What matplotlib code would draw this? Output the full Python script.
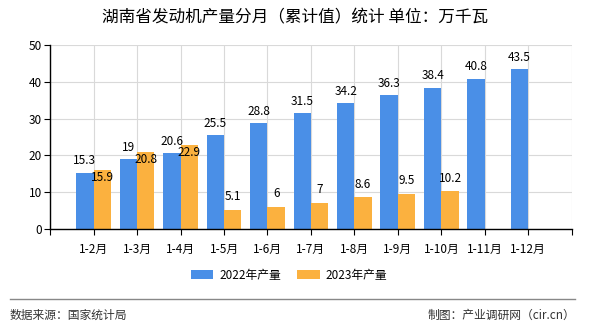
import numpy as np
import matplotlib.pyplot as plt

plt.rcParams['font.family'] = ['Noto Sans CJK SC', 'DejaVu Sans']

months = ['1-2月', '1-3月', '1-4月', '1-5月', '1-6月', '1-7月', '1-8月',
          '1-9月', '1-10月', '1-11月', '1-12月']
val_2022 = [15.3, 19, 20.6, 25.5, 28.8, 31.5, 34.2, 36.3, 38.4, 40.8, 43.5]
val_2023 = [15.9, 20.8, 22.9, 5.1, 6, 7, 8.6, 9.5, 10.2, None, None]

blue = '#4a8fe7'
orange = '#fbb13f'

fig = plt.figure(figsize=(5.9, 3.3), dpi=100)
ax = fig.add_axes([0.085, 0.306, 0.884, 0.558])

x = np.arange(len(months))
w = 0.4
v23 = [np.nan if v is None else v for v in val_2023]
b1 = ax.bar(x - w / 2, val_2022, w, color=blue, label='2022年产量', zorder=2)
b2 = ax.bar(x + w / 2, v23, w, color=orange, label='2023年产量', zorder=2)

for xi, v in zip(x, val_2022):
    ax.text(xi - w / 2, v + 3.2, f'{v:g}', ha='center', va='center', fontsize=8.5, zorder=3)
for xi, v, v22 in zip(x, val_2023, val_2022):
    if v is None:
        continue
    # labels that would collide with the 2022 label are pushed down into the bar
    y = v - 2 if abs(v - v22) < 5 else v + 3.6
    ax.text(xi + w / 2, y, f'{v:g}', ha='center', va='center', fontsize=8.5, zorder=3)

ax.set_xlim(-1, 11)
ax.set_ylim(0, 50)
ax.set_yticks(range(0, 51, 10))
ax.set_xticks(np.arange(-1, 12))
ax.set_xticklabels([''] + months + [''])
ax.tick_params(axis='both', labelsize=8.5, length=4, direction='out', pad=2)
ax.tick_params(axis='x', pad=6)
ax.grid(True, color='#d9d9d9', linewidth=0.8, zorder=0)
ax.set_axisbelow(True)
for s in ['top', 'right']:
    ax.spines[s].set_visible(False)
for s in ['left', 'bottom']:
    ax.spines[s].set_color('black')
    ax.spines[s].set_linewidth(1)

fig.text(0.5, 0.945, '湖南省发动机产量分月（累计值）统计 单位：万千瓦',
         ha='center', va='center', fontsize=12)

fig.legend(handles=[b1, b2], loc='center', bbox_to_anchor=(0.49, 0.165), ncol=2,
           frameon=False, fontsize=8.5, handlelength=1.9, handleheight=0.8,
           handletextpad=0.5, columnspacing=1.4)

fig.add_artist(plt.Line2D([0.017, 0.975], [0.094, 0.094], color='#888888', linewidth=1))
fig.text(0.017, 0.045, '数据来源：国家统计局', ha='left', va='center', fontsize=8.5, color='#333333')
fig.text(0.975, 0.045, '制图：产业调研网（cir.cn）', ha='right', va='center', fontsize=8.5, color='#333333')

fig.savefig('out.png', dpi=100)
